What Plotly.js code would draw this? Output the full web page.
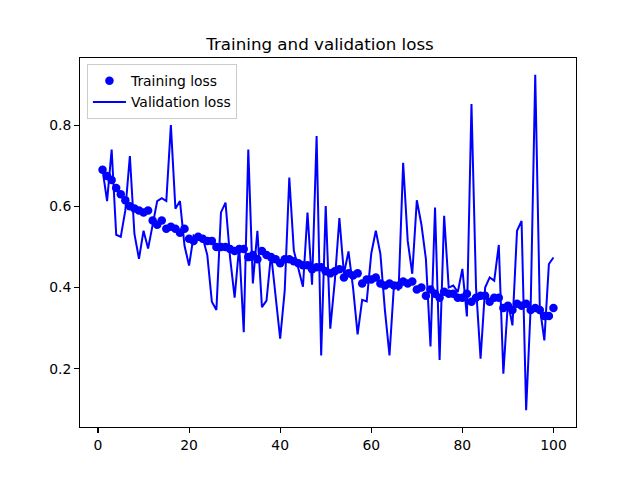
<!DOCTYPE html>
<html>
<head>
<meta charset="utf-8">
<script src="https://cdn.plot.ly/plotly-3.0.1.min.js"></script>
<style>html,body{margin:0;padding:0;background:#fff;}#chart{width:640px;height:480px;}</style>
</head>
<body>
<div id="chart"></div>
<script>
const epochs = Array.from({length: 100}, (_, i) => i + 1);

const trainingLoss = [
  0.69, 0.675, 0.665, 0.645, 0.63, 0.615, 0.60, 0.595, 0.59, 0.585,
  0.59, 0.565, 0.555, 0.565, 0.545, 0.55, 0.545, 0.535, 0.545, 0.52,
  0.515, 0.525, 0.52, 0.515, 0.515, 0.50, 0.50, 0.50, 0.495, 0.49,
  0.495, 0.495, 0.475, 0.48, 0.47, 0.49, 0.48, 0.475, 0.47, 0.46,
  0.47, 0.47, 0.465, 0.46, 0.455, 0.455, 0.445, 0.45, 0.45, 0.44,
  0.435, 0.44, 0.445, 0.425, 0.435, 0.43, 0.435, 0.41, 0.42, 0.42,
  0.425, 0.41, 0.405, 0.41, 0.405, 0.405, 0.415, 0.41, 0.415, 0.395,
  0.40, 0.38, 0.395, 0.385, 0.375, 0.39, 0.385, 0.385, 0.375, 0.375,
  0.385, 0.365, 0.375, 0.38, 0.38, 0.365, 0.375, 0.375, 0.35, 0.355,
  0.345, 0.36, 0.355, 0.36, 0.345, 0.35, 0.345, 0.33, 0.33, 0.35
];

const validationLoss = [
  0.69, 0.613, 0.74, 0.53, 0.525, 0.59, 0.724, 0.532, 0.471, 0.54,
  0.496, 0.555, 0.613, 0.62, 0.613, 0.80, 0.594, 0.613, 0.503, 0.454,
  0.528, 0.52, 0.523, 0.48, 0.365, 0.345, 0.585, 0.609, 0.474, 0.375,
  0.503, 0.29, 0.74, 0.41, 0.54, 0.352, 0.368, 0.483, 0.385, 0.274,
  0.393, 0.671, 0.491, 0.45, 0.402, 0.585, 0.407, 0.773, 0.233, 0.601,
  0.299, 0.417, 0.571, 0.434, 0.489, 0.40, 0.285, 0.37, 0.366, 0.484,
  0.54, 0.483, 0.344, 0.233, 0.409, 0.393, 0.707, 0.515, 0.434, 0.615,
  0.556, 0.47, 0.255, 0.597, 0.222, 0.577, 0.40, 0.405, 0.389, 0.446,
  0.329, 0.852, 0.40, 0.225, 0.40, 0.425, 0.417, 0.505, 0.188, 0.364,
  0.307, 0.54, 0.564, 0.098, 0.352, 0.924, 0.352, 0.27, 0.458, 0.474
];

const xTicks = [0, 20, 40, 60, 80, 100];
const yTicks = [0.2, 0.4, 0.6, 0.8];

const font = 'DejaVu Sans, sans-serif';

const traces = [
  {
    x: epochs, y: trainingLoss, type: 'scatter', mode: 'markers',
    name: 'Training loss',
    marker: {color: '#0000ff', size: 8.5}
  },
  {
    x: epochs, y: validationLoss, type: 'scatter', mode: 'lines',
    name: 'Validation loss',
    line: {color: '#0000ff', width: 2}
  }
];

const layout = {
  width: 640, height: 480,
  margin: {l: 80, r: 64, t: 57.6, b: 52.8},
  paper_bgcolor: '#ffffff', plot_bgcolor: '#ffffff',
  font: {family: font, size: 13.9, color: '#000'},
  title: {text: 'Training and validation loss', font: {family: font, size: 16.7, color: '#000'},
          x: 0.5, xanchor: 'center', y: 1 - 44/480, yanchor: 'middle'},
  xaxis: {
    range: [-3.95, 104.95], tickvals: xTicks, ticktext: xTicks.map(String),
    showgrid: false, zeroline: false, showline: true, mirror: true,
    linecolor: '#000', linewidth: 1.1, ticks: 'outside', ticklen: 4.9, tickwidth: 1.1, tickcolor: '#000',
    tickfont: {family: font, size: 13.9, color: '#000'}
  },
  yaxis: {
    range: [0.0567, 0.9653], tickvals: yTicks, ticktext: yTicks.map(v => v.toFixed(1)),
    showgrid: false, zeroline: false, showline: true, mirror: true,
    linecolor: '#000', linewidth: 1.1, ticks: 'outside', ticklen: 4.9, tickwidth: 1.1, tickcolor: '#000',
    tickfont: {family: font, size: 13.9, color: '#000'}
  },
  showlegend: true,
  legend: {
    x: 0.014, y: 0.983, xanchor: 'left', yanchor: 'top',
    bgcolor: 'rgba(255,255,255,0.8)', bordercolor: '#cccccc', borderwidth: 1,
    font: {family: font, size: 13.9, color: '#000'},
    tracegroupgap: 0, itemwidth: 33
  }
};

Plotly.newPlot('chart', traces, layout, {staticPlot: true, displayModeBar: false});
</script>
</body>
</html>
